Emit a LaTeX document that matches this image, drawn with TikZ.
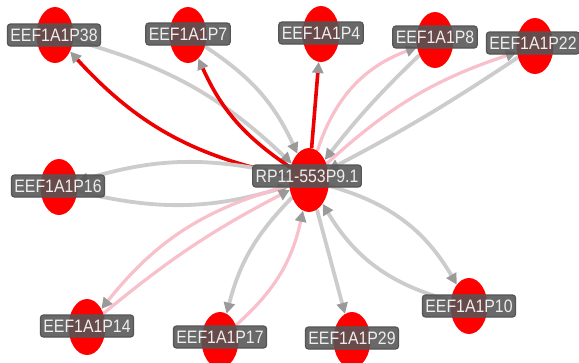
\documentclass[tikz,border=0pt]{standalone}
\usepackage{fontspec}
\newfontfamily\lblfont[FakeStretch=0.88]{Liberation Sans}
\usetikzlibrary{arrows.meta,shapes.geometric}
\definecolor{nred}{HTML}{FF0000}
\definecolor{ered}{HTML}{EE0000}
\definecolor{egray}{HTML}{CCCCCC}
\definecolor{epink}{HTML}{F8C0CA}
\definecolor{agray}{HTML}{9A9A9A}
\definecolor{lblbg}{HTML}{555555}
\definecolor{lbltxt}{HTML}{EEEEEE}
\pgfdeclarelayer{bg}
\pgfsetlayers{bg,main}
\begin{document}
\begin{tikzpicture}[x=1pt,y=-1pt,
  gene/.style={ellipse, fill=nred, minimum width=37pt, minimum height=56pt, inner sep=0pt},
  hub/.style={gene, minimum width=40pt, minimum height=64pt},
  lbl/.style={rounded corners=3pt, fill=lblbg, fill opacity=0.88, text opacity=1, text=lbltxt,
    draw=lblbg, line width=1.2pt, font=\lblfont\fontsize{18}{18}\selectfont,
    inner xsep=3pt, inner ysep=0pt, minimum height=22pt},
  edge/.style={line width=3.2pt, -{Triangle[color=agray,length=11pt,width=11pt]}},
  redge/.style={edge, draw=ered, line width=3.6pt},
  gedge/.style={edge, draw=egray, line width=3.8pt},
  pedge/.style={edge, draw=epink},
]
\useasboundingbox (0,0) rectangle (579,362);
\begin{pgfonlayer}{bg}
\fill[white] (0,0) rectangle (579,362);
\end{pgfonlayer}

% nodes
\node[hub]  (rp)  at (309,180) {};
\node[gene] (p38) at (55,35) {};
\node[gene] (p7)  at (188,35) {};
\node[gene] (p4)  at (321,34) {};
\node[gene] (p8)  at (435,40) {};
\node[gene] (p22) at (535,46) {};
\node[gene] (p16) at (59,187) {};
\node[gene] (p14) at (87,327) {};
\node[gene] (p17) at (220,340) {};
\node[gene] (p29) at (352,340) {};
\node[gene] (p10) at (469,306) {};

% edges
\begin{pgfonlayer}{bg}
\draw[redge] (rp) to[bend left=18] (p38);
\draw[gedge] (p38) to[bend left=14] (rp);
\draw[redge] (rp) to[bend left=16] (p7);
\draw[gedge] (p7) to[bend left=16] (rp);
\draw[redge] (rp) to (p4);
\draw[pedge] (rp) to[bend left=26] (p8);
\draw[gedge] (p8) to[bend right=4] (rp);
\draw[pedge] (rp) to[bend left=12] (p22);
\draw[gedge] (p22) to[bend left=3] (rp);
\draw[gedge] (rp) to[bend right=15] (p16);
\draw[gedge] (p16) to[bend right=15] (rp);
\draw[pedge] (rp) to[bend right=18] (p14);
\draw[pedge] (p14) to[bend left=6] (rp);
\draw[gedge] (rp) to[bend right=15] (p17);
\draw[pedge] (p17) to[bend right=18] (rp);
\draw[gedge] (rp) to (p29);
\draw[gedge] (rp) to[bend left=22] (p10);
\draw[gedge] (p10) to[bend left=22] (rp);
\end{pgfonlayer}

% labels
\node[lbl] (lrp)  at (307,176) {RP11-553P9.1};
\node[lbl] (l38)  at (54,35)   {EEF1A1P38};
\node[lbl] (l7)   at (188,34)  {EEF1A1P7};
\node[lbl] (l4)   at (321,33)  {EEF1A1P4};
\node[lbl] (l8)   at (435,37)  {EEF1A1P8};
\node[lbl] (l22)  at (533,43)  {EEF1A1P22};
\node[lbl] (l16)  at (58,186)  {EEF1A1P16};
\node[lbl] (l14)  at (87,326)  {EEF1A1P14};
\node[lbl] (l17)  at (220,337) {EEF1A1P17};
\node[lbl] (l29)  at (352,338) {EEF1A1P29};
\node[lbl] (l10)  at (469,306) {EEF1A1P10};
\end{tikzpicture}
\end{document}
